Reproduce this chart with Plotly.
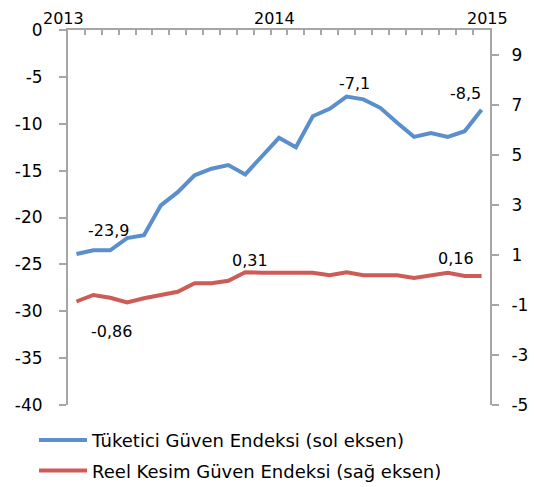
import plotly.graph_objects as go

# Aylar: Ocak 2013 - Ocak 2015
months = [f"{y}-{m:02d}" for y in (2013, 2014) for m in range(1, 13)] + ["2015-01"]

# Tüketici Güven Endeksi (sol eksen)
tuketici = [-23.9, -23.5, -23.5, -22.2, -21.9, -18.7, -17.3, -15.5, -14.8, -14.4,
            -15.4, -13.5, -11.5, -12.5, -9.2, -8.4, -7.1, -7.4, -8.3, -9.9,
            -11.4, -11.0, -11.4, -10.8, -8.5]

# Reel Kesim Güven Endeksi (sağ eksen)
reel = [-0.86, -0.60, -0.71, -0.90, -0.73, -0.60, -0.47, -0.13, -0.13, -0.03,
        0.31, 0.29, 0.29, 0.29, 0.29, 0.19, 0.31, 0.19, 0.19, 0.19,
        0.08, 0.17, 0.29, 0.16, 0.16]

year_labels = ["2013", "2014", "2015"]
left_ticks = [0, -5, -10, -15, -20, -25, -30, -35, -40]
right_ticks = [9, 7, 5, 3, 1, -1, -3, -5]

BLUE = '#5A8FCC'
RED = '#CD5C57'
GRAY = '#A6A6A6'
FONT = 'DejaVu Sans, Arial, sans-serif'

fig = go.Figure()

fig.add_trace(go.Scatter(
    x=months, y=tuketici, mode='lines',
    line=dict(color=BLUE, width=4),
    name='Tüketici Güven Endeksi (sol eksen)',
    legendgroup='a'
))
fig.add_trace(go.Scatter(
    x=months, y=reel, mode='lines', yaxis='y2',
    line=dict(color=RED, width=4),
    name='Reel Kesim Güven Endeksi (sağ eksen)',
    legendgroup='b'
))

def fmt(v, nd):
    return f"{v:.{nd}f}".replace('.', ',')

# Veri etiketleri
labels = [
    # (seri, eksen, indeks, ondalık, xshift, yshift)
    (tuketici, 'y', 0, 1, 32, 24),
    (tuketici, 'y', 16, 1, 8, 13),
    (tuketici, 'y', 24, 1, -16, 16),
    (reel, 'y2', 0, 2, 35, -30),
    (reel, 'y2', 10, 2, 5, 12),
    (reel, 'y2', 24, 2, -26, 18),
]
for series, yref, i, nd, dx, dy in labels:
    fig.add_annotation(
        x=months[i], y=series[i], xref='x', yref=yref,
        text=fmt(series[i], nd), showarrow=False,
        xshift=dx, yshift=dy,
        font=dict(size=16, color='#000000', family=FONT)
    )

# Yıl etiketleri (üst)
for lab, px in zip(year_labels, [-0.064, 0.4905, 1.047]):
    fig.add_annotation(
        x=px, y=1, xref='paper', yref='paper', yanchor='bottom', yshift=0,
        text=lab, showarrow=False,
        font=dict(size=16, color='#000000', family=FONT)
    )

# sayfa gövdesinin 8px kenar boşluğu hesaba katılır
fig.update_layout(
    width=528, height=479,
    margin=dict(l=60, r=46, t=22, b=82, autoexpand=False),
    plot_bgcolor='white', paper_bgcolor='white',
    font=dict(family=FONT, size=17, color='#000000'),
    xaxis=dict(
        type='category', side='top', range=[-0.5, 24.5],
        showticklabels=False, showgrid=False,
        showline=True, linecolor=GRAY, linewidth=2,
        ticks='inside', ticklen=5, tickcolor=GRAY, tickwidth=1.5,
        tickson='boundaries'
    ),
    yaxis=dict(
        range=[-40, 0], tickvals=left_ticks,
        ticktext=[str(v) for v in left_ticks],
        showgrid=False, zeroline=False,
        showline=True, linecolor=GRAY, linewidth=2,
        ticks='outside', ticklen=7, tickcolor=GRAY, tickwidth=1.5,
        ticklabelstandoff=13
    ),
    yaxis2=dict(
        overlaying='y', side='right', range=[-5, 10],
        tickvals=right_ticks,
        ticktext=[str(v) for v in right_ticks],
        showgrid=False, zeroline=False,
        showline=True, linecolor=GRAY, linewidth=2,
        ticks='outside', ticklen=7, tickcolor=GRAY, tickwidth=1.5,
        ticklabelstandoff=9
    ),
    showlegend=True,
    legend=dict(
        x=-0.0805, y=-0.045, xanchor='left', yanchor='top',
        traceorder='grouped', tracegroupgap=4,
        itemwidth=48,
        font=dict(size=18, family=FONT, color='#000000'),
        bgcolor='rgba(0,0,0,0)'
    )
)

fig.write_html("out.html")
